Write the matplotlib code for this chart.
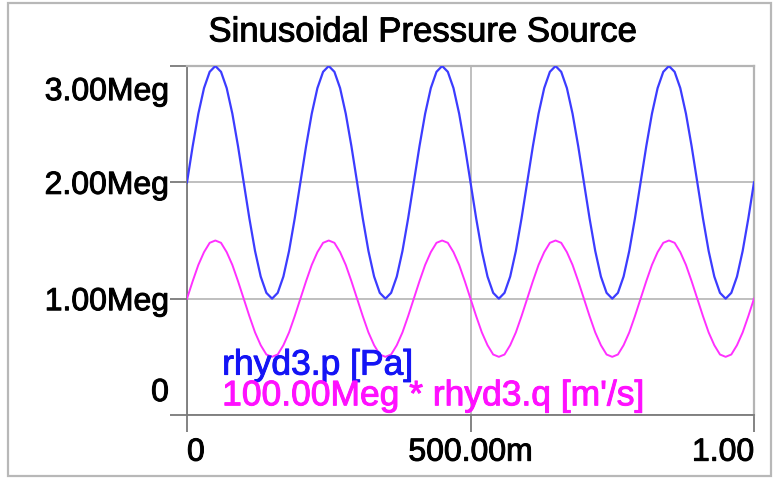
import matplotlib
matplotlib.use("Agg")
import matplotlib.pyplot as plt
import matplotlib.patheffects as pe
from matplotlib.patches import Rectangle
from matplotlib.transforms import ScaledTranslation

plt.rcParams['font.family'] = ['Liberation Sans', 'DejaVu Sans']

# Simulation output, sampled every 10 ms (values in "Meg")
time_s = [i * 0.01 for i in range(101)]
pressure_meg = [
    2.00, 2.31, 2.59, 2.81, 2.95, 3.00, 2.95, 2.81, 2.59, 2.31,
    2.00, 1.69, 1.41, 1.19, 1.05, 1.00, 1.05, 1.19, 1.41, 1.69,
    2.00, 2.31, 2.59, 2.81, 2.95, 3.00, 2.95, 2.81, 2.59, 2.31,
    2.00, 1.69, 1.41, 1.19, 1.05, 1.00, 1.05, 1.19, 1.41, 1.69,
    2.00, 2.31, 2.59, 2.81, 2.95, 3.00, 2.95, 2.81, 2.59, 2.31,
    2.00, 1.69, 1.41, 1.19, 1.05, 1.00, 1.05, 1.19, 1.41, 1.69,
    2.00, 2.31, 2.59, 2.81, 2.95, 3.00, 2.95, 2.81, 2.59, 2.31,
    2.00, 1.69, 1.41, 1.19, 1.05, 1.00, 1.05, 1.19, 1.41, 1.69,
    2.00, 2.31, 2.59, 2.81, 2.95, 3.00, 2.95, 2.81, 2.59, 2.31,
    2.00, 1.69, 1.41, 1.19, 1.05, 1.00, 1.05, 1.19, 1.41, 1.69,
    2.00,
]
flow_scaled_meg = [
    1.00, 1.15, 1.29, 1.40, 1.48, 1.50, 1.48, 1.40, 1.29, 1.15,
    1.00, 0.85, 0.71, 0.60, 0.52, 0.50, 0.52, 0.60, 0.71, 0.85,
    1.00, 1.15, 1.29, 1.40, 1.48, 1.50, 1.48, 1.40, 1.29, 1.15,
    1.00, 0.85, 0.71, 0.60, 0.52, 0.50, 0.52, 0.60, 0.71, 0.85,
    1.00, 1.15, 1.29, 1.40, 1.48, 1.50, 1.48, 1.40, 1.29, 1.15,
    1.00, 0.85, 0.71, 0.60, 0.52, 0.50, 0.52, 0.60, 0.71, 0.85,
    1.00, 1.15, 1.29, 1.40, 1.48, 1.50, 1.48, 1.40, 1.29, 1.15,
    1.00, 0.85, 0.71, 0.60, 0.52, 0.50, 0.52, 0.60, 0.71, 0.85,
    1.00, 1.15, 1.29, 1.40, 1.48, 1.50, 1.48, 1.40, 1.29, 1.15,
    1.00, 0.85, 0.71, 0.60, 0.52, 0.50, 0.52, 0.60, 0.71, 0.85,
    1.00,
]
series_labels = ["rhyd3.p [Pa]", "100.00Meg * rhyd3.q [m'/s]"]
x_ticks = [0.0, 0.5, 1.0]
x_tick_labels = ["0", "500.00m", "1.00"]
y_ticks = [0.0, 1.0, 2.0, 3.0]
y_tick_labels = ["0", "1.00Meg", "2.00Meg", "3.00Meg"]
title = "Sinusoidal Pressure Source"

BLUE = "#3c3cff"
MAGENTA = "#ff30ff"
BLUE_TEXT = "#1414f5"
MAGENTA_TEXT = "#ff10ff"
GRID = "#b4b4b4"
AXIS = "#7a7a7a"


def heavy(color, w=0.7):
    # slightly thicker glyph strokes
    return [pe.withStroke(linewidth=w, foreground=color)]


fig = plt.figure(figsize=(7.74, 4.81), dpi=100)
fig.patch.set_facecolor("white")

# outer panel border
fig.patches.append(Rectangle((8 / 774, 4 / 481), 763 / 774, 473 / 481,
                             transform=fig.transFigure, fill=False,
                             edgecolor="#b8b8b8", linewidth=1.6))

ax = fig.add_axes([187 / 774, 65 / 481, 567 / 774, 349 / 481])
ax.set_xlim(0, 1)
ax.set_ylim(0, 3)

ax.plot(time_s, pressure_meg, color=BLUE, linewidth=1.6, zorder=3)
ax.plot(time_s, flow_scaled_meg, color=MAGENTA, linewidth=1.4, zorder=3)

ax.set_xticks(x_ticks)
ax.set_yticks(y_ticks)
ax.set_xticklabels([])
ax.set_yticklabels([])
ax.tick_params(axis="both", direction="out", length=12.5, width=1.3, color=AXIS)
ax.grid(True, color=GRID, linewidth=1.2, zorder=0)

for side in ("top", "right"):
    ax.spines[side].set_color(GRID)
    ax.spines[side].set_linewidth(1.6)
for side in ("left", "bottom"):
    ax.spines[side].set_color(AXIS)
    ax.spines[side].set_linewidth(1.3)

tick_font = dict(fontsize=23, color="black", path_effects=heavy("black"))
ytrans = ax.get_yaxis_transform()
for val, lab in zip(y_ticks, y_tick_labels):
    if val == y_ticks[-1]:
        off = ScaledTranslation(0, -8 / 72, fig.dpi_scale_trans)
        ax.text(-0.032, val, lab, ha="right", va="top",
                transform=ytrans + off, **tick_font)
    elif val == y_ticks[0]:
        off = ScaledTranslation(0, 5 / 72, fig.dpi_scale_trans)
        ax.text(-0.032, val, lab, ha="right", va="bottom",
                transform=ytrans + off, **tick_font)
    else:
        ax.text(-0.032, val, lab, ha="right", va="center_baseline",
                transform=ytrans, **tick_font)

xtrans = ax.get_xaxis_transform()
for val, lab in zip(x_ticks, x_tick_labels):
    ha = "left" if val == x_ticks[0] else ("right" if val == x_ticks[-1] else "center")
    ax.text(val, -0.065, lab, ha=ha, va="top", transform=xtrans, **tick_font)

fig.text(423 / 774, 1 - 33 / 481, title, ha="center", va="center",
         fontsize=25, color="black", path_effects=heavy("black"))

ax.text(0.062, 0.143, series_labels[0], transform=ax.transAxes,
        ha="left", va="center", fontsize=25.5, color=BLUE_TEXT,
        path_effects=heavy(BLUE_TEXT))
ax.text(0.062, 0.055, series_labels[1], transform=ax.transAxes,
        ha="left", va="center", fontsize=25.5, color=MAGENTA_TEXT, zorder=4,
        path_effects=heavy(MAGENTA_TEXT))

fig.savefig("out.png", dpi=100)
